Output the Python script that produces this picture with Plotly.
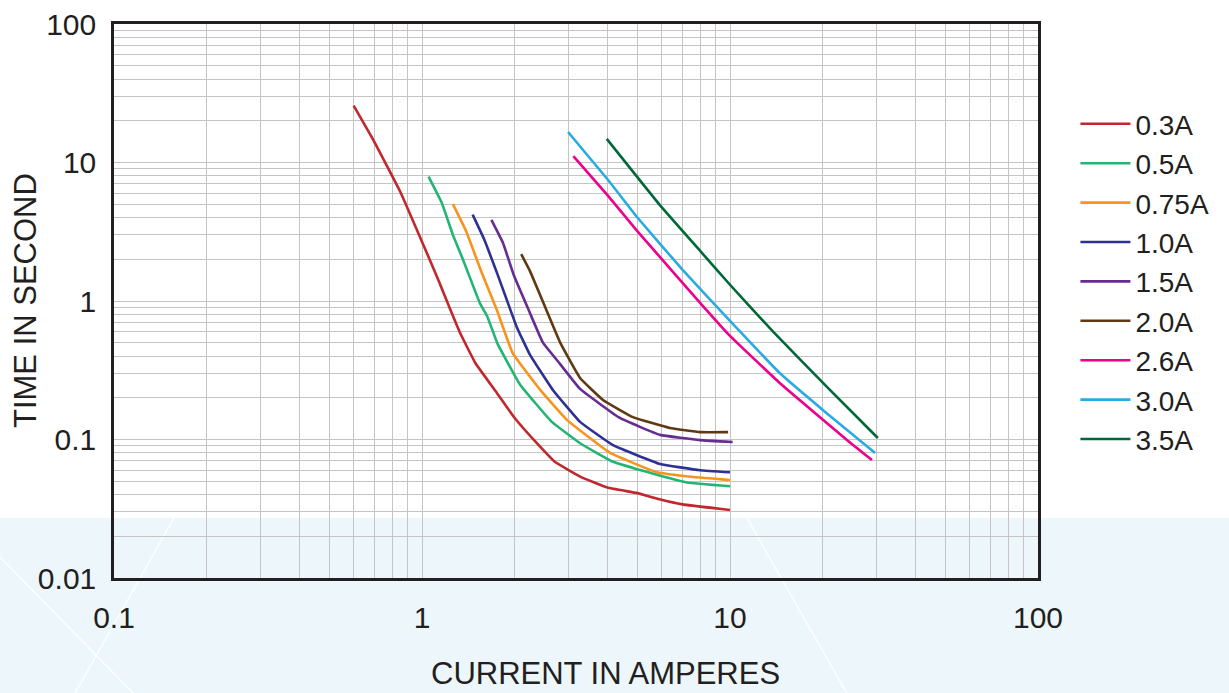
import plotly.graph_objects as go

# ---- data ----
names = ["0.3A", "0.5A", "0.75A", "1.0A", "1.5A", "2.0A", "2.6A", "3.0A", "3.5A"]
colors = ["#c1272d", "#22b573", "#f7941d", "#2e3192", "#662d91",
          "#603913", "#ec008c", "#29abe2", "#006837"]

x_03 = [0.60, 0.70, 0.85, 1.0, 1.13, 1.23, 1.33, 1.49, 1.75, 2.0, 2.36, 2.7, 3.26, 4.0, 5.0, 5.9, 7.0, 10.0]
y_03 = [25.7, 14.1, 6.15, 2.68, 1.42, 0.89, 0.587, 0.357, 0.217, 0.143, 0.094, 0.069, 0.054, 0.045, 0.041, 0.037, 0.034, 0.031]

x_05 = [1.05, 1.16, 1.26, 1.36, 1.54, 1.63, 1.76, 2.08, 2.64, 3.26, 4.17, 5.0, 5.9, 7.25, 10.0]
y_05 = [7.9, 5.1, 3.0, 1.98, 0.97, 0.77, 0.49, 0.25, 0.134, 0.094, 0.069, 0.061, 0.055, 0.049, 0.046]

x_075 = [1.26, 1.39, 1.56, 1.75, 1.97, 2.42, 2.96, 4.08, 5.8, 7.6, 10.0]
y_075 = [5.0, 3.2, 1.62, 0.86, 0.42, 0.228, 0.138, 0.080, 0.058, 0.0536, 0.051]

x_10 = [1.46, 1.59, 1.76, 2.03, 2.24, 2.66, 3.26, 4.17, 5.93, 8.0, 10.0]
y_10 = [4.2, 2.8, 1.55, 0.65, 0.41, 0.228, 0.134, 0.091, 0.0665, 0.060, 0.058]

x_15 = [1.68, 1.83, 1.99, 2.22, 2.47, 2.81, 3.26, 4.39, 5.93, 8.0, 10.2]
y_15 = [3.85, 2.64, 1.52, 0.86, 0.50, 0.35, 0.232, 0.143, 0.108, 0.099, 0.096]

x_20 = [2.10, 2.24, 2.42, 2.81, 3.26, 3.87, 4.84, 6.38, 8.0, 9.86]
y_20 = [2.18, 1.65, 1.10, 0.50, 0.278, 0.193, 0.145, 0.121, 0.113, 0.113]

x_26 = [3.1, 4.0, 5.0, 8.17, 10.0, 14.5, 25.1, 28.9]
y_26 = [11.1, 5.82, 3.2, 0.92, 0.56, 0.256, 0.0912, 0.071]

x_30 = [2.98, 4.02, 4.98, 7.03, 10.0, 14.5, 20.6, 29.6]
y_30 = [16.6, 7.48, 4.06, 1.67, 0.718, 0.302, 0.155, 0.080]

x_35 = [3.98, 5.93, 8.0, 10.0, 13.8, 21.1, 30.2]
y_35 = [14.8, 4.9, 2.30, 1.31, 0.60, 0.228, 0.1025]

xs = [x_03, x_05, x_075, x_10, x_15, x_20, x_26, x_30, x_35]
ys = [y_03, y_05, y_075, y_10, y_15, y_20, y_26, y_30, y_35]

x_decades = [0.1, 1, 10, 100]
x_labels = ["0.1", "1", "10", "100"]
y_decades = [0.01, 0.1, 1, 10, 100]
y_labels = ["0.01", "0.1", "1", "10", "100"]

x_title = "CURRENT IN AMPERES"
y_title = "TIME IN SECOND"

# ---- build ----
TXT = "#231f20"
FONT = "Liberation Sans, Arial, sans-serif"


def log_ticks(decades, labels):
    vals, texts = [], []
    for i, d in enumerate(decades):
        vals.append(d)
        texts.append(labels[i])
        if i < len(decades) - 1:
            for k in range(2, 10):
                vals.append(round(d * k, 6))
                texts.append("")
    return vals, texts


xv, xt = log_ticks(x_decades, x_labels)
yv, yt = log_ticks(y_decades, y_labels)

fig = go.Figure()
for name, c, x, y in zip(names, colors, xs, ys):
    fig.add_trace(go.Scatter(x=x, y=y, mode="lines", name=name,
                             line=dict(color=c, width=2.6, shape="spline", smoothing=0.3)))

# decorative light-blue band at the bottom of the page
fig.add_shape(type="rect", xref="paper", yref="paper", x0=-0.2, x1=1.3, y0=-0.25, y1=0.1083,
              fillcolor="#edf7fb", line=dict(width=0), layer="below")
for (a, b, c2, d) in [(-0.1234, 0.0379, 0.0206, -0.2076),
                      (0.0649, 0.1083, -0.0422, -0.2076),
                      (0.685, 0.1083, 0.793, -0.2076)]:
    fig.add_shape(type="line", xref="paper", yref="paper", x0=a, y0=b, x1=c2, y1=d,
                  line=dict(color="rgba(255,255,255,0.9)", width=1.5), layer="below")

axis_common = dict(
    type="log", showline=True, mirror=True, linecolor=TXT, linewidth=2.5,
    showgrid=True, gridcolor="#c4c4c4", gridwidth=1.4, zeroline=False,
    ticks="", tickfont=dict(size=30, color=TXT, family=FONT), automargin=False,
)

fig.update_xaxes(range=[-1, 2], tickmode="array", tickvals=xv, ticktext=xt,
                 ticklabelstandoff=11, **axis_common)
fig.update_yaxes(range=[-2, 2], tickmode="array", tickvals=yv, ticktext=yt,
                 ticklabelstandoff=9, **axis_common)

fig.add_annotation(text=x_title, xref="paper", yref="paper", x=0.532, y=-0.2058,
                   showarrow=False, font=dict(size=31, color=TXT, family=FONT),
                   xanchor="center", yanchor="bottom", borderpad=0)
fig.add_annotation(text=y_title, xref="paper", yref="paper", x=-0.0963, y=0.5,
                   textangle=-90, showarrow=False, font=dict(size=31, color=TXT, family=FONT),
                   xanchor="center", yanchor="middle")

fig.update_layout(
    width=1229, height=693,
    margin=dict(l=114, r=191, t=24, b=115, autoexpand=False),
    paper_bgcolor="white", plot_bgcolor="rgba(0,0,0,0)",
    font=dict(family=FONT, color=TXT),
    showlegend=True,
    legend=dict(x=1.0405, y=0.535, xanchor="left", yanchor="middle",
                bgcolor="rgba(0,0,0,0)", font=dict(size=28, color=TXT, family=FONT),
                itemwidth=50, tracegroupgap=0),
)

fig.write_html("out.html", config={"displayModeBar": False},
               post_script="document.body.style.margin='0';document.body.style.padding='0';")
